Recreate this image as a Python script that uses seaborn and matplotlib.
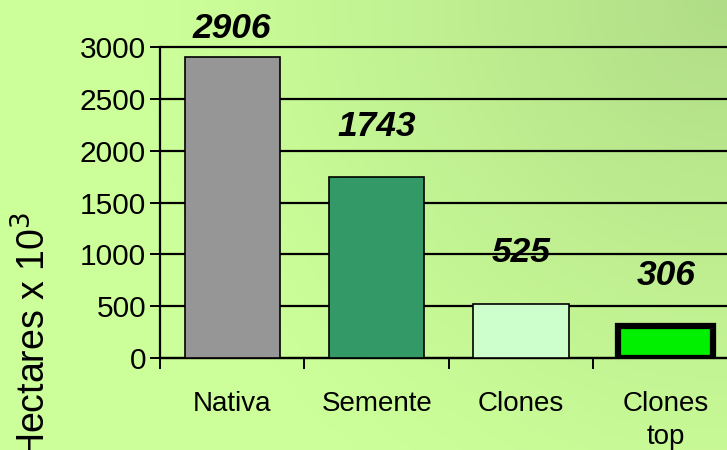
import matplotlib
matplotlib.use("Agg")
import matplotlib.pyplot as plt
import numpy as np
import pandas as pd
import seaborn as sns

categories = ["Nativa", "Semente", "Clones", "Clones\ntop"]
hectares = [2906, 1743, 525, 306]
bar_colors = ["#969696", "#339966", "#CCFFCC", "#00F000"]
yticks = [0, 500, 1000, 1500, 2000, 2500, 3000]

sns.set_style("white")
plt.rcParams["font.family"] = ["Liberation Sans", "DejaVu Sans"]
plt.rcParams["text.color"] = "black"
plt.rcParams["xtick.color"] = "black"
plt.rcParams["ytick.color"] = "black"

df = pd.DataFrame({"cat": categories, "ha": hectares})

fig = plt.figure(figsize=(7.27, 4.5), dpi=100)

# background gradient: light green, a bit darker toward top-right
bg = fig.add_axes([0, 0, 1, 1], zorder=-10)
h, w = 90, 145
yy, xx = np.mgrid[0:h, 0:w]
d = np.hypot((w - 1 - xx) / w, yy / h * 0.62)
t = np.clip(1 - d / 0.8, 0, 1) ** 1.2
light = np.array([204, 255, 153]) / 255
dark = np.array([176, 220, 135]) / 255
img = light[None, None, :] + (dark - light)[None, None, :] * t[..., None]
bg.imshow(img, aspect="auto", extent=[0, 1, 0, 1], origin="upper")
bg.axis("off")

ax = fig.add_axes([0.220, 0.2044, 0.795, 0.6911])
ax.set_facecolor("none")
sns.barplot(data=df, x="cat", y="ha", hue="cat", palette=bar_colors,
            saturation=1, legend=False, width=0.66, ax=ax, zorder=3)
for i, p in enumerate(ax.patches):
    p.set_edgecolor("black")
    p.set_linewidth(4.5 if i == len(ax.patches) - 1 else 1.2)

ax.set_xlim(-0.5, 3.5)
ax.set_ylim(0, 3000)
ax.set_yticks(yticks)
ax.yaxis.grid(True, color="black", linewidth=1.6, zorder=0)
for gl in ax.get_ygridlines():
    gl.set_clip_on(False)
ax.set_axisbelow(True)
for s in ["top", "right"]:
    ax.spines[s].set_visible(False)
for s in ["left", "bottom"]:
    ax.spines[s].set_color("black")
    ax.spines[s].set_linewidth(1.6)

ax.tick_params(axis="y", length=7, width=1.4, color="black", left=True,
               labelsize=21.5, pad=3)
ax.set_xticks(range(len(categories)))
ax.set_xticklabels(categories, fontsize=20, linespacing=1.35)
ax.tick_params(axis="x", length=0, pad=24)
ax.set_xticks([-0.5, 0.5, 1.5, 2.5], minor=True)
ax.tick_params(axis="x", which="minor", length=8, width=1.4, color="black",
               bottom=True)
ax.set_xlabel("")
ax.set_ylabel("")

for i, v in enumerate(hectares):
    ax.text(i, min(v + 490, 3180), f"{v}", ha="center", va="center",
            fontsize=25.5, fontweight="bold", fontstyle="italic",
            clip_on=False, zorder=5)

fig.text(34 / 727, (450 - 212) / 450, "Hectares x 10$^3$", rotation=90,
         ha="center", va="top", fontsize=27)

fig.savefig("out.png", dpi=100)
